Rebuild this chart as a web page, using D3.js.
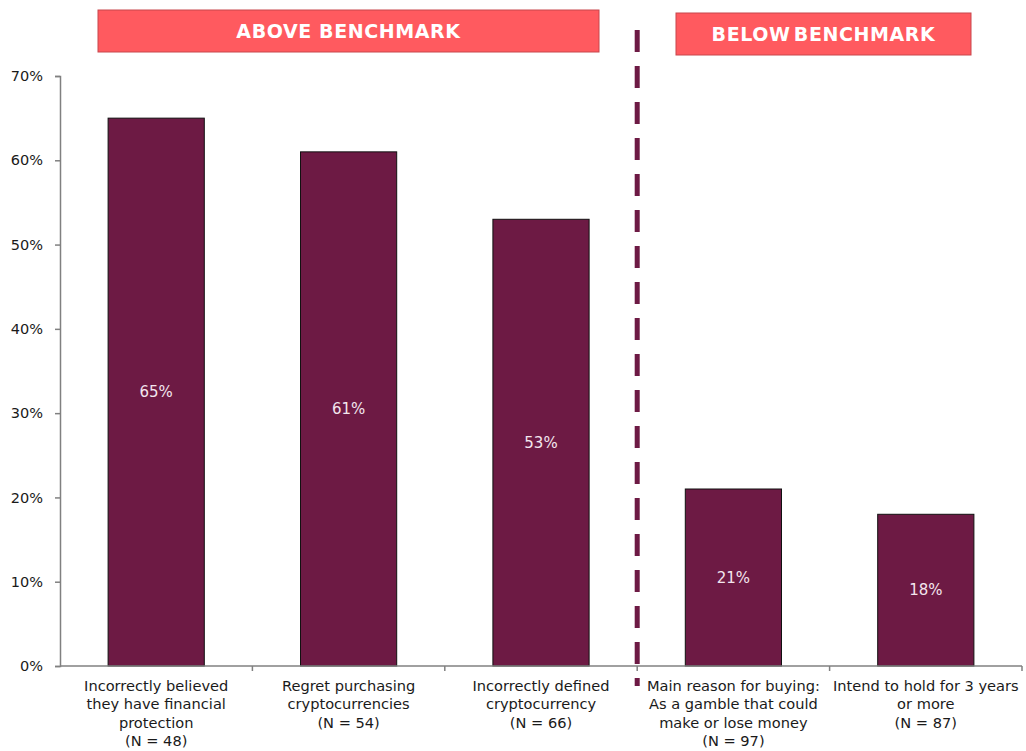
<!DOCTYPE html>
<html><head><meta charset="utf-8">
<script src="https://cdn.jsdelivr.net/npm/d3@7"></script>
<style>body{margin:0;background:#fff}svg{display:block}text{font-family:Verdana,"DejaVu Sans",sans-serif}</style>
</head><body><svg id="c" width="1026" height="751"></svg>
<script>
const categories = [
  ["Incorrectly believed","they have financial","protection","(N = 48)"],
  ["Regret purchasing","cryptocurrencies","(N = 54)"],
  ["Incorrectly defined","cryptocurrency","(N = 66)"],
  ["Main reason for buying:","As a gamble that could","make or lose money","(N = 97)"],
  ["Intend to hold for 3 years","or more","(N = 87)"]
];
const values = [65, 61, 53, 21, 18];
const yTicks = [0,10,20,30,40,50,60,70];
const headers = [
  {text:"ABOVE BENCHMARK", from:0, to:2},
  {text:"BELOW BENCHMARK", from:3, to:4}
];

(function(){
const svg = d3.select("#c");
const mLeft = 60, mRight = 1022, mTop = 76, mBottom = 666;
const x = d3.scaleBand().domain(d3.range(categories.length)).range([mLeft,mRight]).paddingInner(0.5).paddingOuter(0.25);
const xo = d3.scaleBand().domain(d3.range(categories.length)).range([mLeft,mRight]);
const y = d3.scaleLinear().domain([0,70]).range([mBottom,mTop]);

// y axis
const ya = svg.append("g").attr("transform",`translate(${mLeft},0)`)
  .call(d3.axisLeft(y).tickValues(yTicks).tickFormat(d=>d+"%").tickSize(5).tickPadding(12));
ya.select(".domain").attr("stroke","#808080").attr("stroke-width",1.5);
ya.selectAll(".tick line").attr("stroke","#808080").attr("stroke-width",1.5);
ya.selectAll("text").attr("font-size",14.5).attr("fill","#1a1a1a").attr("font-family",null);

// bars
svg.append("g").selectAll("rect").data(values).join("rect")
  .attr("x",(d,i)=>x(i)).attr("width",x.bandwidth())
  .attr("y",d=>y(d)).attr("height",d=>mBottom-y(d))
  .attr("fill","#6d1a44").attr("stroke","#111").attr("stroke-width",1);

svg.append("g").selectAll("text").data(values).join("text")
  .attr("x",(d,i)=>x(i)+x.bandwidth()/2).attr("y",d=>(y(d)+mBottom)/2)
  .attr("dy","0.35em").attr("text-anchor","middle").attr("font-size",15)
  .attr("fill","#f3e6ee").text(d=>d+"%");

// x axis
svg.append("line").attr("x1",mLeft).attr("x2",mRight).attr("y1",mBottom).attr("y2",mBottom)
  .attr("stroke","#808080").attr("stroke-width",1.5);
svg.append("g").selectAll("line").data(d3.range(1,categories.length+1)).join("line")
  .attr("x1",i=>xo(i-1)+xo.bandwidth()).attr("x2",i=>xo(i-1)+xo.bandwidth())
  .attr("y1",mBottom).attr("y2",mBottom+5).attr("stroke","#808080").attr("stroke-width",1.5);

const lab = svg.append("g").selectAll("text").data(categories).join("text")
  .attr("text-anchor","middle").attr("font-size",14.6).attr("fill","#1a1a1a");
lab.each(function(lines,i){
  d3.select(this).selectAll("tspan").data(lines).join("tspan")
    .attr("x",xo(i)+xo.bandwidth()/2).attr("y",(d,j)=>691+j*18.3).text(d=>d);
});

// divider
const divX = xo(3);
svg.append("line").attr("x1",divX).attr("x2",divX).attr("y1",30).attr("y2",686)
  .attr("stroke","#6d1a44").attr("stroke-width",5).attr("stroke-dasharray","22,14");

// headers
const hdrBoxes = [[98,10,501,42],[676,13,295,42]];
headers.forEach((h,k)=>{
  const b = hdrBoxes[k];
  svg.append("rect").attr("x",b[0]).attr("y",b[1]).attr("width",b[2]).attr("height",b[3])
    .attr("fill","#ff5a5f").attr("stroke","#c8464c").attr("stroke-width",1);
  svg.append("text").attr("x",b[0]+b[2]/2).attr("y",b[1]+b[3]/2).attr("dy","0.36em")
    .attr("text-anchor","middle").attr("font-size",19).attr("font-weight","bold")
    .attr("letter-spacing",0.6).attr("fill","#fff").attr("word-spacing", k==1?-4:0).text(h.text);
});
})();
</script></body></html>
